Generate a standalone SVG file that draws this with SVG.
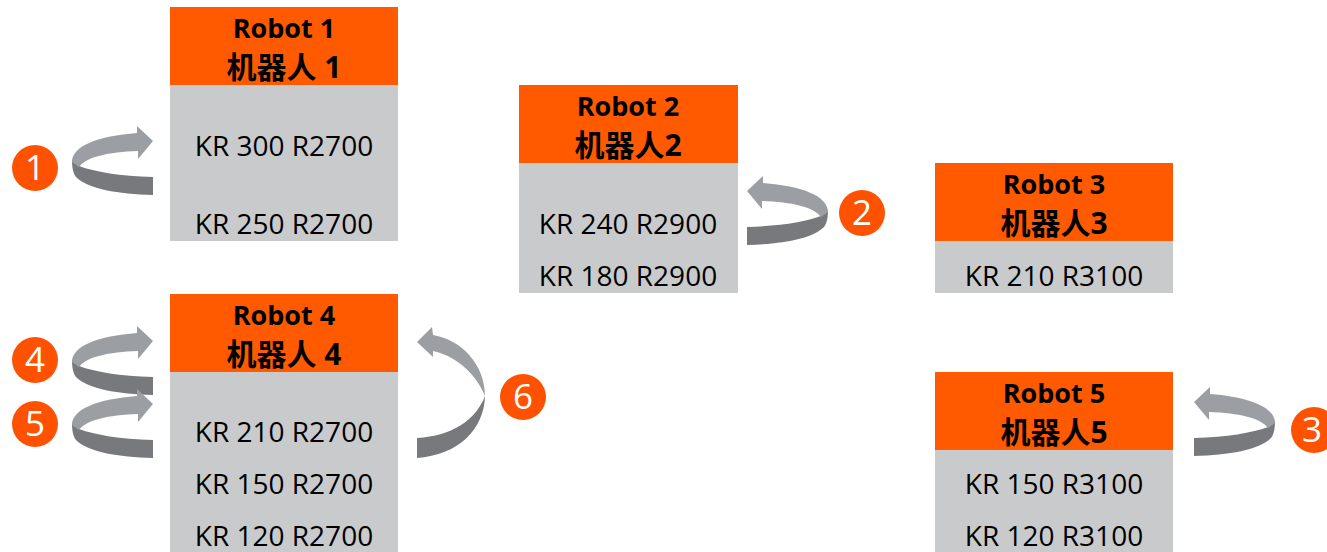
<svg xmlns="http://www.w3.org/2000/svg" xmlns:xlink="http://www.w3.org/1999/xlink" width="1327" height="552" viewBox="0 0 1327 552">
<style>
.hdr{fill:#FF5A00}
.body{fill:#C9CACC}
.t{font-family:"Open Sans","Noto Sans CJK SC",sans-serif;font-weight:bold;font-size:27px;fill:#000;text-anchor:middle}
.c{font-family:"Open Sans","Noto Sans CJK SC",sans-serif;font-weight:bold;font-size:30px;fill:#000;text-anchor:middle}
.m{font-family:"Open Sans",sans-serif;font-size:28px;fill:#000;text-anchor:middle}
.lt{fill:#9B9EA3}
.dk{fill:#77797D}
.badge{fill:#FF5200}
.num{font-family:"Open Sans",sans-serif;font-size:35px;fill:#fff;text-anchor:middle}
</style>
<defs>
<g id="swirl">
<path class="dk" d="M72,160 L79,166 C95,172 120,176 153,177 L153,195 C118,194 88,189 76,177 C73,173 72,167 72,160 Z"/>
<path class="lt" d="M72,162 C72,146 98,136 137,133 L137,126 L153,141 L138,159 L138,151 C108,152 86,157 79,167 Z"/>
</g>
</defs>
<g id="connectors">
<use xlink:href="#swirl"/>
<use xlink:href="#swirl" transform="translate(0,200)"/>
<use xlink:href="#swirl" transform="translate(0,263)"/>
<use xlink:href="#swirl" transform="translate(900,50) scale(-1,1)"/>
<use xlink:href="#swirl" transform="translate(1347,261) scale(-1,1)"/>
<g id="arrow-6">
<path class="dk" d="M485,396 C484,430 458,455 417,458 L417,438 C452,436 476,420 485,396 Z"/>
<path class="lt" d="M417,342 L432,327 L433,335 C462,340 485,365 485,396 C478,378 460,357 433,351 L433,357 Z"/>
</g>
</g>
<g id="robot1">
<rect class="hdr" x="170" y="7" width="228" height="78"/>
<rect class="body" x="170" y="85" width="228" height="156"/>
<text class="t" x="284" y="38">Robot 1</text>
<text class="c" x="284" y="78">机器人 1</text>
<text class="m" x="284" y="156">KR 300 R2700</text>
<text class="m" x="284" y="234">KR 250 R2700</text>
</g>
<g id="robot2">
<rect class="hdr" x="519" y="85" width="219" height="78"/>
<rect class="body" x="519" y="163" width="219" height="130"/>
<text class="t" x="628" y="116">Robot 2</text>
<text class="c" x="628" y="156">机器人2</text>
<text class="m" x="628" y="234">KR 240 R2900</text>
<text class="m" x="628" y="286">KR 180 R2900</text>
</g>
<g id="robot3">
<rect class="hdr" x="935" y="163" width="238" height="78"/>
<rect class="body" x="935" y="241" width="238" height="52"/>
<text class="t" x="1054" y="194">Robot 3</text>
<text class="c" x="1054" y="234">机器人3</text>
<text class="m" x="1054" y="286">KR 210 R3100</text>
</g>
<g id="robot4">
<rect class="hdr" x="170" y="294" width="228" height="78"/>
<rect class="body" x="170" y="372" width="228" height="180"/>
<text class="t" x="284" y="325">Robot 4</text>
<text class="c" x="284" y="365">机器人 4</text>
<text class="m" x="284" y="442">KR 210 R2700</text>
<text class="m" x="284" y="494">KR 150 R2700</text>
<text class="m" x="284" y="546">KR 120 R2700</text>
</g>
<g id="robot5">
<rect class="hdr" x="935" y="372" width="238" height="78"/>
<rect class="body" x="935" y="450" width="238" height="102"/>
<text class="t" x="1054" y="403">Robot 5</text>
<text class="c" x="1054" y="443">机器人5</text>
<text class="m" x="1054" y="494">KR 150 R3100</text>
<text class="m" x="1054" y="546">KR 120 R3100</text>
</g>
<g id="badge1"><circle class="badge" cx="35" cy="168" r="23"/><text class="num" x="35" y="180">1</text></g>
<g id="badge2"><circle class="badge" cx="862" cy="213" r="23"/><text class="num" x="862" y="225">2</text></g>
<g id="badge3"><circle class="badge" cx="1314" cy="430" r="23"/><text class="num" x="1312" y="442">3</text></g>
<g id="badge4"><circle class="badge" cx="35" cy="360" r="23"/><text class="num" x="35" y="372">4</text></g>
<g id="badge5"><circle class="badge" cx="35" cy="424" r="23"/><text class="num" x="35" y="436">5</text></g>
<g id="badge6"><circle class="badge" cx="523" cy="397" r="23"/><text class="num" x="523" y="409">6</text></g>
</svg>
